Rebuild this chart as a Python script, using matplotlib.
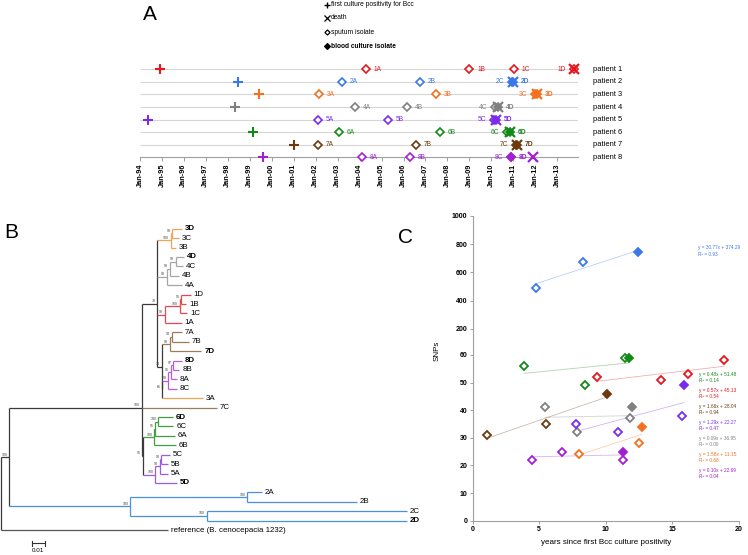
import numpy as np
import matplotlib
matplotlib.use("Agg")
import matplotlib.pyplot as plt
from matplotlib.lines import Line2D
import matplotlib.transforms as mtransforms

plt.rcParams['font.family'] = ['Liberation Sans', 'DejaVu Sans']

# ------------------------------------------------------------------ data
patients = [1, 2, 3, 4, 5, 6, 7, 8]
patient_colors = ['#E5161E', '#3B78E7', '#F37021', '#808080',
                  '#7A2CEB', '#13891A', '#6B3A0F', '#A21FD3']

# Panel A: timeline (decimal years)
year_ticks = list(range(1994, 2014))
year_labels = ['Jan-94', 'Jan-95', 'Jan-96', 'Jan-97', 'Jan-98', 'Jan-99', 'Jan-00',
               'Jan-01', 'Jan-02', 'Jan-03', 'Jan-04', 'Jan-05', 'Jan-06', 'Jan-07',
               'Jan-08', 'Jan-09', 'Jan-10', 'Jan-11', 'Jan-12', 'Jan-13']
first_positive = [1994.9, 1998.48, 1999.42, 1998.33, 1994.38, 1999.16, 2001.0, 1999.59]
death_dates = [2013.76, 2010.98, 2012.1, 2010.3, 2010.22, 2010.85, 2011.15, 2011.88]
isolate_names = ['A', 'B', 'C', 'D']
isolate_dates = [
    [2004.28, 2009.0, 2011.03, 2013.76],
    [2003.18, 2006.75, 2010.95, 2010.98],
    [2002.17, 2007.47, 2012.0, 2012.1],
    [2003.79, 2006.17, 2010.18, 2010.3],
    [2002.09, 2005.28, 2010.13, 2010.22],
    [2003.08, 2007.66, 2010.72, 2010.85],
    [2002.12, 2006.57, 2011.1, 2011.15],
    [2004.12, 2006.3, 2010.88, 2010.9],
]
blood_isolate = [
    [0, 0, 0, 0], [0, 0, 0, 1], [0, 0, 0, 1], [0, 0, 0, 1],
    [0, 0, 0, 1], [0, 0, 0, 1], [0, 0, 0, 1], [0, 0, 0, 1],
]
legend_labels = ['first culture positivity for Bcc', 'death',
                 'sputum isolate', 'blood culture isolate']

# Panel B: phylogeny (branch lengths in substitutions/site, bootstrap as node labels)
tree_newick = (
    "((((((3D:0.0071,3C:0.0050)99:0.0012,3B:0.0040)100:0.0101,"
    "(((4D:0.0062,4C:0.0055)99:0.0043,4B:0.0070)99:0.0025,4A:0.0119)99:0.0071,"
    "(((1D:0.0071,1B:0.0038)95:0.0011,1C:0.0056)100:0.0113,1A:0.0128)99:0.0058,"
    "(((7A:0.0073,7B:0.0126)94:0.0017,7D:0.0238)99:0.0062,"
    "((((8D:0.0068,8B:0.0047)97:0.0017,8A:0.0043)96:0.0020,8C:0.0065)99:0.0045,"
    "3A:0.0306)65:0.0005)74:0.0033)70:0.0117,"
    "7C:0.0564,"
    "((((6D:0.0113,6C:0.0113)100:0.0023,6A:0.0148)95:0.0008,6B:0.0163)100:0.0085,"
    "(((5C:0.0065,5B:0.0053)90:0.0010,5A:0.0062)90:0.0035,5D:0.0161)100:0.0092)95:0.0010"
    ")100:0.0995,"
    "((2A:0.0108,2B:0.0823)100:0.0882,(2C:0.1504,2D:0.1504)100:0.0577)100:0.0908"
    ")100:0.0062,'reference (B. cenocepacia 1232)':0.1258);"
)
bold_tips = ['3D', '4D', '7D', '8D', '6D', '5D', '2D']
tree_colors = {'1': '#E8474C', '2': '#4A8FE0', '3': '#F2A257', '4': '#A6A6A6',
               '5': '#9A5CE6', '6': '#3F9E3F', '7': '#9C7A5A', '8': '#B85BE0',
               'r': '#555555'}
scale_bar_length = 0.01

# Panel C: SNPs vs years since first positivity
snp_years = [
    [9.37, 14.16, 16.17, 18.92],
    [4.76, 8.32, 12.45],
    [8.0, 12.5, 12.7],
    [5.44, 7.84, 11.8, 11.98],
    [7.74, 10.92, 15.71, 15.86],
    [3.88, 8.47, 11.47, 11.73],
    [1.05, 5.53, 10.07],
    [4.48, 6.74, 11.3, 11.3],
]
snp_counts = [
    [52, 51, 53, 58],
    [490, 675, 744],
    [24, 28, 34],
    [41, 32, 37, 41],
    [35, 32, 38, 49],
    [56, 49, 59, 59],
    [31, 35, 46],
    [22, 25, 22, 25],
]
snp_blood = [
    [0, 0, 0, 0], [0, 0, 1], [0, 0, 1], [0, 0, 0, 1],
    [0, 0, 0, 1], [0, 0, 0, 1], [0, 0, 1], [0, 0, 0, 1],
]
trend_slopes = [0.57, 30.77, 1.58, 0.09, 1.29, 0.48, 1.66, 0.10]
trend_intercepts = [45.13, 374.29, 11.15, 36.95, 22.27, 51.48, 28.04, 22.69]
trend_r2 = [0.54, 0.93, 0.68, 0.00, 0.47, 0.14, 0.94, 0.04]
equation_order = [6, 1, 7, 5, 4, 3, 8]
c_yticks = [0, 10, 20, 30, 40, 50, 60, 200, 400, 600, 800, 1000]
c_xticks = [0, 5, 10, 15, 20]

# ------------------------------------------------------------------ figure
W, H = 748, 555
fig = plt.figure(figsize=(W / 100, H / 100), dpi=100)


def px_axes(x0, y0, x1, y1):
    return fig.add_axes([x0 / W, 1 - y1 / H, (x1 - x0) / W, (y1 - y0) / H])


def fx(x):
    return x / W


def fy(y):
    return 1 - y / H


# panel letters
fig.text(fx(150), fy(14), 'A', fontsize=15, ha='center', va='center')
fig.text(fx(11), fy(233), 'B', fontsize=15, ha='center', va='center')
fig.text(fx(406), fy(237), 'C', fontsize=15, ha='center', va='center')

# ------------------------------------------------------------------ panel A
axA = px_axes(140, 58, 578, 157.3)
axA.set_xlim(1994, 1994 + 438 / 21.96)
axA.set_ylim(8, 0.1)
for s in ['top', 'right', 'left']:
    axA.spines[s].set_visible(False)
axA.spines['bottom'].set_color('#A0A0A0')
axA.spines['bottom'].set_linewidth(0.8)
axA.hlines(patients[:-1], 1994, 1994 + 438 / 21.96, color='#D6D6D6', lw=0.8, zorder=1)
axA.set_yticks([])
axA.set_xticks(year_ticks)
axA.set_xticklabels(year_labels, rotation=90, fontsize=5.3, fontweight='bold')
axA.tick_params(axis='x', direction='out', length=3, width=0.7, color='#A0A0A0', pad=1.5)

label_side = {'1D': 'left', '2C': 'left', '3C': 'left', '4C': 'left', '5C': 'left',
              '6C': 'left', '7C': 'left', '8C': 'left'}
blend = mtransforms.blended_transform_factory(axA.transAxes, axA.transData)
for i, p in enumerate(patients):
    c = patient_colors[i]
    axA.plot(first_positive[i], p, marker='+', ms=7, mew=1.5, color=c, ls='none',
             zorder=3, clip_on=False)
    for nm, d, b in zip(isolate_names, isolate_dates[i], blood_isolate[i]):
        axA.plot(d, p, marker='D', ms=3.6, mew=1.2, mec=c, mfc=c if b else 'white',
                 ls='none', zorder=4, clip_on=False)
        lab = f"{p}{nm}"
        side = label_side.get(lab, 'right')
        off = 5.5 if side == 'right' else -5.5
        axA.annotate(lab, (d, p), xytext=(off, 0), textcoords='offset points',
                     ha='left' if side == 'right' else 'right', va='center',
                     fontsize=4.8, color=c, fontweight='bold' if b else 'normal',
                     zorder=5)
    axA.plot(death_dates[i], p, marker='x', ms=6.5, mew=1.6, color=c, ls='none',
             zorder=5, clip_on=False)
    axA.text(1 + 14.7 / 438, p, f'patient {p}', transform=blend, fontsize=5.4,
             ha='left', va='center')

# legend (top)
leg_markers = [dict(marker='+', ms=5, mew=1.0, color='black'),
               dict(marker='x', ms=4.5, mew=0.9, color='black'),
               dict(marker='D', ms=2.6, mew=0.9, mec='black', mfc='white'),
               dict(marker='D', ms=3.0, mew=0.9, mec='black', mfc='black')]
leg_y = [4.5, 17.5, 32, 46]
for lab, mk, yy in zip(legend_labels, leg_markers, leg_y):
    fig.add_artist(Line2D([fx(326.5)], [fy(yy)], transform=fig.transFigure, ls='none', **mk))
    fig.text(fx(331), fy(yy), lab, fontsize=4.8, ha='left', va='center',
             fontweight='bold' if lab.startswith('blood') else 'normal')


# ------------------------------------------------------------------ panel B
def parse_newick(s):
    pos = 0

    def node():
        nonlocal pos
        children = []
        if s[pos] == '(':
            pos += 1
            while True:
                children.append(node())
                if s[pos] == ',':
                    pos += 1
                    continue
                if s[pos] == ')':
                    pos += 1
                    break
                raise ValueError('bad newick at %d' % pos)
        if s[pos] == "'":
            end = s.index("'", pos + 1)
            name = s[pos + 1:end]
            pos = end + 1
        else:
            start = pos
            while s[pos] not in ':,);':
                pos += 1
            name = s[start:pos]
        bl = 0.0
        if s[pos] == ':':
            pos += 1
            start = pos
            while s[pos] not in ',);':
                pos += 1
            bl = float(s[start:pos])
        return {'name': name, 'bl': bl, 'children': children}

    return node()


tree = parse_newick(tree_newick)
tips = []


def layout(n, x0):
    n['x'] = x0 + n['bl']
    if not n['children']:
        n['y'] = len(tips)
        tips.append(n)
    else:
        for ch in n['children']:
            layout(ch, n['x'])
        k = len(n['children'])
        if k > 2 and k % 2 == 1:
            n['y'] = n['children'][k // 2]['y']
        else:
            n['y'] = (n['children'][0]['y'] + n['children'][-1]['y']) / 2


layout(tree, 0.0)


def groups(n):
    if not n['children']:
        return {n['name'][0]}
    g = set()
    for ch in n['children']:
        g |= groups(ch)
    return g


def color_of(n):
    g = groups(n)
    if len(g) == 1:
        return tree_colors[list(g)[0]]
    return '#3A3A3A'


axB = px_axes(0, 220, 420, 555)
axB.set_xlim(-1 / 1330, 419 / 1330)
axB.set_ylim((555 - 228.7) / 9.416, (220 - 228.7) / 9.416)
axB.axis('off')
LW = 0.9


def draw(n):
    if n['children']:
        cols = color_of(n)
        axB.plot([n['x'], n['x']], [n['children'][0]['y'], n['children'][-1]['y']],
                 color=cols, lw=LW, solid_capstyle='butt')
        for ch in n['children']:
            axB.plot([n['x'], ch['x']], [ch['y'], ch['y']], color=color_of(ch), lw=LW,
                     solid_capstyle='butt')
            draw(ch)
        if n['name']:
            axB.annotate(n['name'], (n['x'], n['y']), xytext=(-1.2, 1.8),
                         textcoords='offset points', ha='right', va='center',
                         fontsize=2.6, color='#444444')
    else:
        axB.annotate(n['name'], (n['x'], n['y']), xytext=(2, 0),
                     textcoords='offset points', ha='left', va='center', fontsize=5.7,
                     fontweight='bold' if n['name'] in bold_tips else 'normal')


draw(tree)

# scale bar
sb_x0 = 30.7 / 1330
sb_y = (543.3 - 228.7) / 9.416
axB.plot([sb_x0, sb_x0 + scale_bar_length], [sb_y, sb_y], color='#333333', lw=0.8)
for xx in (sb_x0, sb_x0 + scale_bar_length):
    axB.plot([xx, xx], [sb_y - 0.25, sb_y + 0.25], color='#333333', lw=0.8)
axB.text(sb_x0 + scale_bar_length / 2, sb_y + 0.75, f'{scale_bar_length:g}',
         fontsize=4.5, ha='center', va='center')

# ------------------------------------------------------------------ panel C
Y200 = 69.4
K = 0.05113


def fwd(y):
    y = np.asarray(y, dtype=float)
    return np.where(y <= 60, y,
                    np.where(y <= 200, 60 + (y - 60) * (Y200 - 60) / 140,
                             Y200 + (y - 200) * K))


def inv(u):
    u = np.asarray(u, dtype=float)
    return np.where(u <= 60, u,
                    np.where(u <= Y200, 60 + (u - 60) * 140 / (Y200 - 60),
                             200 + (u - Y200) / K))


axC = px_axes(472.7, 216, 738.7, 520.7)
axC.set_yscale('function', functions=(fwd, inv))
axC.set_xlim(0, 20)
axC.set_ylim(0, 1000)
for s in ['top', 'right']:
    axC.spines[s].set_visible(False)
for s in ['left', 'bottom']:
    axC.spines[s].set_color('#A0A0A0')
    axC.spines[s].set_linewidth(0.8)
axC.set_yticks(c_yticks)
axC.set_yticklabels([str(t) for t in c_yticks])
axC.yaxis.set_minor_locator(matplotlib.ticker.NullLocator())
axC.set_xticks(c_xticks)
axC.set_xticklabels([str(t) for t in c_xticks])
axC.tick_params(axis='both', direction='out', length=2.2, width=0.7, color='#A0A0A0',
                labelsize=5, pad=1.8)
for t in axC.get_xticklabels() + axC.get_yticklabels():
    t.set_fontweight('bold')

for i, p in enumerate(patients):
    c = patient_colors[i]
    xs = np.array(snp_years[i])
    xl = np.array([xs.min(), xs.max()])
    axC.plot(xl, trend_slopes[i] * xl + trend_intercepts[i], color=c, lw=0.6,
             alpha=0.35, zorder=2)
    for x, y, b in zip(snp_years[i], snp_counts[i], snp_blood[i]):
        axC.plot(x, y, marker='D', ms=3.8, mew=1.3, mec=c, mfc=c if b else 'white',
                 ls='none', zorder=3)

axC.text(-0.133, 0.558, 'SNPs', transform=axC.transAxes, rotation=90,
         fontsize=5.8, ha='center', va='center')
axC.text(0.5, -0.07, 'years since first Bcc culture positivity',
         transform=axC.transAxes, fontsize=5.8, ha='center', va='center')

# regression equations
fig.text(fx(698), fy(248), f'y = {trend_slopes[1]:.2f}x + {trend_intercepts[1]:.2f}',
         fontsize=3.4, color=patient_colors[1], ha='left', va='center')
fig.text(fx(698), fy(254.7), f'R\u00b2 = {trend_r2[1]:.2f}',
         fontsize=3.4, color=patient_colors[1], ha='left', va='center')
for k, p in enumerate(equation_order):
    i = p - 1
    y0 = 374.3 + 16.05 * k
    fig.text(fx(699), fy(y0), f'y = {trend_slopes[i]:.2f}x + {trend_intercepts[i]:.2f}',
             fontsize=3.4, color=patient_colors[i], ha='left', va='center')
    fig.text(fx(699), fy(y0 + 6.3), f'R\u00b2 = {trend_r2[i]:.2f}',
             fontsize=3.4, color=patient_colors[i], ha='left', va='center')

fig.savefig('out.png', dpi=100)
